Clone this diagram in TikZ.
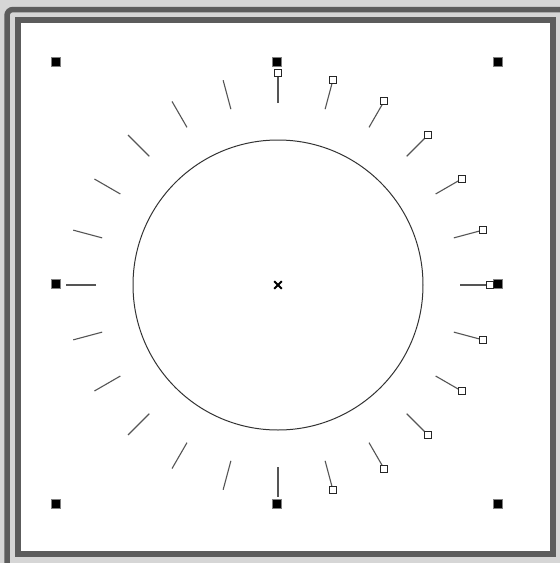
\documentclass[tikz,border=0pt]{standalone}
\usepackage{xcolor}
\usepackage{tikz}
\usetikzlibrary{calc}
\definecolor{framegray}{RGB}{92,92,92}
\definecolor{panelgray}{RGB}{214,214,214}
\definecolor{tickgray}{RGB}{85,85,85}
\tikzstyle{handle} = [rectangle, draw=gray, fill=black, minimum size=9pt,
    inner sep=0pt, line width=0.5pt]
\tikzstyle{knob} = [rectangle, draw=black!85, fill=white, minimum size=7pt,
    inner sep=0pt, line width=1pt]
\tikzstyle{dialtick} = [draw=tickgray, line width=1.1pt]
\tikzstyle{frame} = [draw=framegray, line width=5.5pt]

\begin{document}
\begin{tikzpicture}[x=1pt, y=-1pt]

% ── Panel and frames ────
\fill[panelgray] (0,0) rectangle (560,563);
\useasboundingbox (0,0) rectangle (560,563);
\draw[frame, rounded corners=6pt] (7,566) -- (7,9.5) -- (566,9.5);
\draw[frame, fill=white] (17.8,20) rectangle (553,554);

% ── Dial ────
\coordinate (ctr) at (278,285);
\draw[black!80, line width=1pt] (ctr) circle (145);
\draw[line width=1.9pt] ($(ctr)+(-3.8,-3.8)$) -- ($(ctr)+(3.8,3.8)$);
\draw[line width=1.9pt] ($(ctr)+(-3.8,3.8)$) -- ($(ctr)+(3.8,-3.8)$);

% ── Selection handles ────
\node[handle] (h-nw) at (56,62) {};
\node[handle] (h-n) at (277,62) {};
\node[handle] (h-ne) at (498,62) {};
\node[handle] (h-w) at (56,284) {};
\node[handle] (h-e) at (498,284) {};
\node[handle] (h-sw) at (56,504) {};
\node[handle] (h-s) at (277,504) {};
\node[handle] (h-se) at (498,504) {};

% ── Ticks ────
\foreach \a in {0,15,...,345} {
  \coordinate (t-in-\a) at ({278+182*cos(\a)},{285-182*sin(\a)});
  \coordinate (t-out-\a) at ({278+212*cos(\a)},{285-212*sin(\a)});
  \draw[dialtick] (t-in-\a) -- (t-out-\a);
}

% ── Knobs ────
\foreach \a in {0,15,...,90,285,300,...,345} {
  \node[knob] (k-\a) at (t-out-\a) {};
}

\end{tikzpicture}
\end{document}
